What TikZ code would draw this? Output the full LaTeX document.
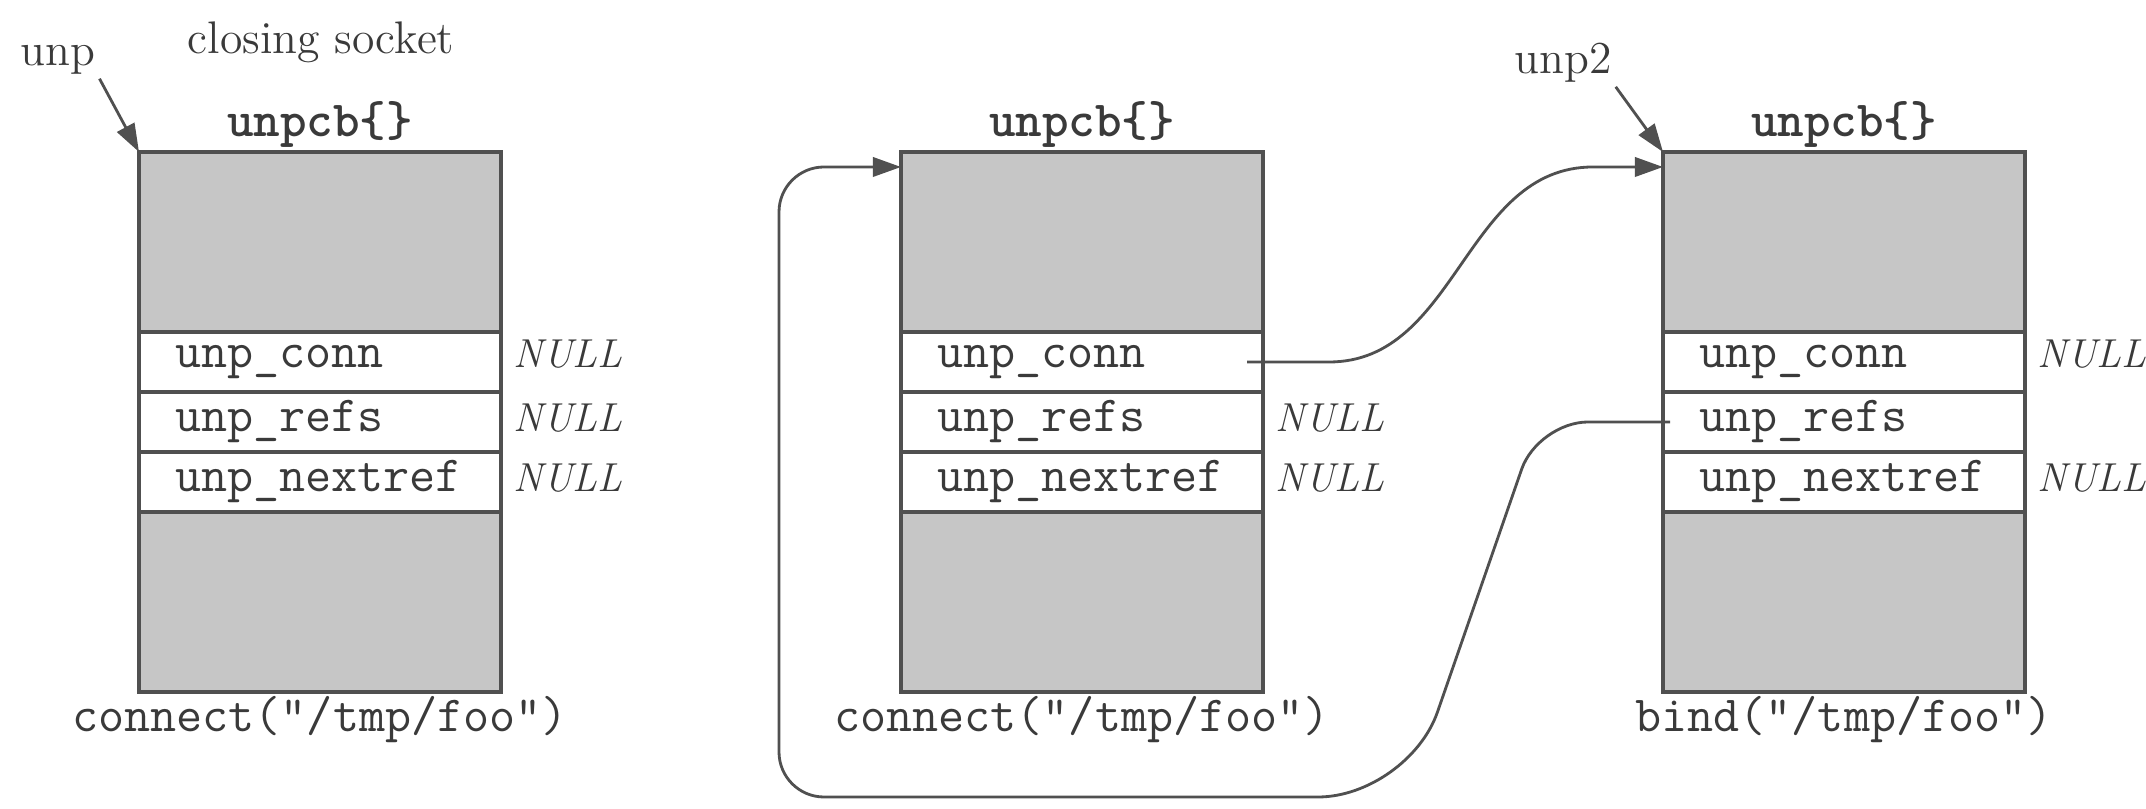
\documentclass[tikz,border=0pt]{standalone}
\usepackage{tikz}
\usetikzlibrary{arrows.meta, positioning}
\definecolor{inkgray}{RGB}{58,58,58}
\definecolor{edgegray}{RGB}{80,80,80}
\definecolor{fillgray}{RGB}{198,198,198}
\newcommand{\codefont}{\fontsize{14.4}{16}\selectfont\ttfamily}
\tikzset{
  blank/.style={
    rectangle, draw=edgegray, fill=fillgray, line width=0.9pt,
    minimum width=3.62cm, minimum height=1.8cm, inner sep=0pt, outer sep=0pt
  },
  field/.style={
    rectangle, draw=edgegray, fill=white, line width=0.9pt,
    minimum height=0.6cm, text width=2.9cm, inner xsep=0.36cm, inner ysep=0pt,
    outer sep=0pt, align=left, font=\codefont, text=inkgray
  },
  nilval/.style={font=\fontsize{11.5}{13}\selectfont\itshape, text=inkgray,
    inner sep=0.12cm, anchor=base west},
  heading/.style={font=\codefont\bfseries, text=inkgray, inner sep=1pt},
  callnote/.style={font=\codefont, text=inkgray, inner sep=1pt},
  ptrname/.style={font=\fontsize{13}{15}\selectfont, text=inkgray, inner sep=1pt},
  ptr/.style={-{Triangle[length=8pt,width=5.5pt]}, line width=0.8pt, draw=edgegray}
}

\begin{document}
\begin{tikzpicture}
  \useasboundingbox (0,0) rectangle (21.46,8.09);

  % closing socket
  \node[blank] (b1top) at (3.20,5.67) {};
  \node[field, below=0pt of b1top] (b1conn) {unp\_conn};
  \node[field, below=0pt of b1conn] (b1refs) {unp\_refs};
  \node[field, below=0pt of b1refs] (b1next) {unp\_nextref};
  \node[blank, below=0pt of b1next] (b1bot) {};
  \node[heading, above=0pt of b1top] (b1name) {unpcb\{\}};
  \node[callnote, below=0pt of b1bot] (b1call) {connect("/tmp/foo")};
  \node[nilval] (b1connnil) at (b1conn.base east) {NULL};
  \node[nilval] (b1refsnil) at (b1refs.base east) {NULL};
  \node[nilval] (b1nextnil) at (b1next.base east) {NULL};
  \node[ptrname] (b1state) at (3.21,7.67) {closing socket};
  \node[ptrname] (unp) at (0.58,7.49) {unp};

  % other connected socket
  \node[blank, right=4cm of b1top] (b2top) {};
  \node[field, below=0pt of b2top] (b2conn) {unp\_conn};
  \node[field, below=0pt of b2conn] (b2refs) {unp\_refs};
  \node[field, below=0pt of b2refs] (b2next) {unp\_nextref};
  \node[blank, below=0pt of b2next] (b2bot) {};
  \node[heading, above=0pt of b2top] (b2name) {unpcb\{\}};
  \node[callnote, below=0pt of b2bot] (b2call) {connect("/tmp/foo")};
  \node[nilval] (b2refsnil) at (b2refs.base east) {NULL};
  \node[nilval] (b2nextnil) at (b2next.base east) {NULL};

  % bound socket
  \node[blank, right=4cm of b2top] (b3top) {};
  \node[field, below=0pt of b3top] (b3conn) {unp\_conn};
  \node[field, below=0pt of b3conn] (b3refs) {unp\_refs};
  \node[field, below=0pt of b3refs] (b3next) {unp\_nextref};
  \node[blank, below=0pt of b3next] (b3bot) {};
  \node[heading, above=0pt of b3top] (b3name) {unpcb\{\}};
  \node[callnote, below=0pt of b3bot] (b3call) {bind("/tmp/foo")};
  \node[nilval] (b3connnil) at (b3conn.base east) {NULL};
  \node[nilval] (b3nextnil) at (b3next.base east) {NULL};
  \node[ptrname] (unp2) at (15.63,7.46) {unp2};

  \coordinate (b2in) at ([yshift=-0.15cm]b2top.north west);
  \coordinate (b3in) at ([yshift=-0.15cm]b3top.north west);
  \coordinate (b2out) at ([xshift=-0.16cm]b2conn.east);
  \coordinate (b3out) at ([xshift=0.07cm]b3refs.west);
  \coordinate (bendtop) at (15.38,3.87);
  \coordinate (bendlow) at (14.08,0.12);
  \coordinate (loopbase) at (7.79,0.12);

  \draw[ptr] (unp.south east) -- (b1top.north west);
  \draw[ptr] (unp2.south east) -- (b3top.north west);
  \draw[ptr] (b2out) -- ++(0.82,0) to[out=0,in=180] ([xshift=-0.7cm]b3in) -- (b3in);
  \draw[ptr] (b3out) [rounded corners=0.5cm] -- (bendtop)
    [rounded corners=0.9cm] -- (bendlow)
    [rounded corners=0.45cm] -- (loopbase) |- (b2in);
\end{tikzpicture}
\end{document}
